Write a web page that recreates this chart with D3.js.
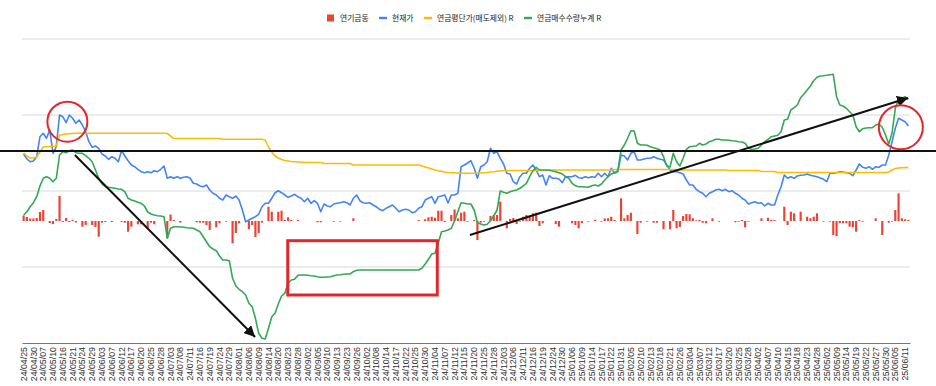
<!DOCTYPE html>
<html><head><meta charset="utf-8">
<script src="https://cdn.jsdelivr.net/npm/d3@7"></script>
<style>body{margin:0;background:#fff}svg{display:block}</style>
</head><body>
<svg id="chart" width="936" height="386"></svg>
<script>
// ---- DATA ----
const seriesNames = ["연기금동", "현재가", "연금평단가(매도제외) R", "연금매수수량누계 R"];

const tickLabels = [
"24/04/25","24/04/30","24/05/07","24/05/10","24/05/16","24/05/21","24/05/24","24/05/29","24/06/03","24/06/07",
"24/06/12","24/06/17","24/06/20","24/06/25","24/06/28","24/07/03","24/07/08","24/07/11","24/07/16","24/07/19",
"24/07/24","24/07/29","24/08/01","24/08/06","24/08/09","24/08/14","24/08/20","24/08/23","24/08/28","24/09/02",
"24/09/05","24/09/10","24/09/13","24/09/23","24/09/26","24/10/02","24/10/08","24/10/14","24/10/17","24/10/22",
"24/10/25","24/10/30","24/11/04","24/11/07","24/11/12","24/11/15","24/11/20","24/11/25","24/11/28","24/12/03",
"24/12/06","24/12/11","24/12/16","24/12/19","24/12/24","24/12/30","25/01/06","25/01/09","25/01/14","25/01/17",
"25/01/22","25/01/31","25/02/05","25/02/10","25/02/13","25/02/18","25/02/21","25/02/26","25/03/04","25/03/07",
"25/03/12","25/03/17","25/03/20","25/03/25","25/03/28","25/04/02","25/04/07","25/04/10","25/04/15","25/04/18",
"25/04/23","25/04/28","25/05/02","25/05/09","25/05/14","25/05/19","25/05/22","25/05/27","25/05/30","25/06/05",
"25/06/11"];

// 현재가 (left axis)
const price = [
18900,18400,18130,18200,18630,20630,20970,20470,21300,18970,
19630,22800,22630,22030,22800,22470,21970,22300,21800,21130,
20130,19570,19700,19470,18900,18700,18370,18630,18470,18130,
19230,18700,18230,17800,17630,17370,17130,17030,17130,17030,
17230,17130,17370,17700,16470,16630,16470,16630,16470,16570,
16630,16470,15970,15900,15700,15630,15800,15300,14970,14800,
14470,14300,14800,14630,14470,14700,14300,13300,12130,12300,
12470,12630,12870,13630,13970,13970,14470,15030,15230,15030,
14800,14570,14700,14870,14630,14470,14130,14470,13970,14230,
13970,13130,13900,13700,13630,13900,13970,14030,14130,14030,
13800,14470,14800,14230,14030,13970,14030,13800,13630,13370,
13230,13470,13630,13800,13470,13130,13300,13370,13300,13030,
13130,13470,13630,14300,14470,14630,13970,14630,14700,14800,
14000,14800,14800,14970,17630,17800,18000,18230,17470,16470,
17630,17800,18130,19470,18970,19130,18470,17900,16970,16900,
16130,15900,16630,16970,16970,17470,17800,17300,16630,16800,
15800,16730,16470,16470,16400,16030,16630,16630,16630,16770,
16530,16470,16630,16530,16630,16570,16970,16630,16970,16630,
17470,16970,17130,18800,18700,18300,18970,19130,18300,18300,
18400,18470,18470,18630,18470,18370,18300,17800,17300,17130,
17130,17030,16900,16300,15800,15800,15370,15130,14970,14630,
14970,15130,15300,15370,15230,15370,15130,15230,14970,14800,
14470,14300,13900,14030,14130,13970,14030,13700,13970,13800,
13800,14800,15630,16800,16470,16630,16470,16700,16770,16800,
16900,16770,16700,16630,16500,16370,16130,16970,16970,17030,
17130,17100,17030,16970,16730,17300,17900,17570,17470,17630,
17370,17630,17570,17800,17800,18800,20130,21470,22470,22300,
22130,21700];

// 연금평단가(매도제외) (right axis)
const avgPrice = [
19000,18700,18500,18500,18600,19100,19600,19630,19650,19650,
19700,20800,20850,20900,20930,20950,20970,20970,20970,20970,
20970,20970,20970,20970,20970,20970,20970,20970,20970,20970,
20970,20970,20970,20970,20970,20970,20970,20970,20970,20970,
20970,20970,20970,20970,20950,20700,20470,20450,20450,20450,
20450,20450,20450,20450,20450,20450,20450,20450,20450,20450,
20450,20370,20370,20370,20370,20370,20370,20370,20370,20370,
20370,20370,20370,20370,20300,19600,19100,18700,18500,18350,
18250,18200,18150,18130,18100,18100,18050,18050,18050,18050,
18050,18050,17950,17950,17950,17950,17950,17950,17950,17950,
17950,17800,17800,17800,17800,17800,17800,17800,17800,17800,
17800,17800,17800,17800,17800,17800,17800,17800,17800,17800,
17800,17800,17700,17600,17500,17400,17300,17230,17170,17100,
17050,17030,17030,17000,17000,16970,16970,16970,16970,17000,
17000,17030,17050,17100,17130,17170,17200,17220,17230,17250,
17250,17250,17250,17250,17250,17250,17250,17250,17250,17250,
17250,17300,17300,17300,17300,17300,17300,17300,17300,17300,
17300,17300,17300,17300,17300,17300,17300,17300,17300,17300,
17300,17350,17350,17350,17350,17350,17350,17350,17350,17350,
17350,17350,17350,17350,17350,17350,17350,17350,17350,17350,
17350,17300,17300,17300,17300,17300,17300,17300,17300,17300,
17300,17300,17300,17300,17300,17300,17250,17250,17250,17250,
17250,17250,17250,17250,17250,17250,17150,17150,17150,17150,
17150,17050,17050,17050,17050,17050,17050,17050,17050,17050,
17050,17050,17050,17050,17050,17050,17050,17050,17050,17050,
17050,17050,17050,17050,17050,17050,17050,17050,17050,17050,
17050,17050,17050,17050,17050,17100,17300,17450,17500,17520,
17540,17550];

// 연금매수수량누계 (right axis)
const cumQty = [
12800,13130,13630,14030,14630,15700,16470,16630,16470,16130,
16470,18800,19130,19030,19230,19300,19030,18970,18970,18730,
18470,18130,17300,16470,15900,15630,15570,15530,15470,15400,
15370,15130,14470,14300,14200,14070,13970,13700,13100,12900,
12800,12730,12700,12630,10470,11470,11630,11630,11600,11570,
11530,11500,11470,11300,11130,10630,10130,9630,9400,9230,
8700,8300,8300,8230,6470,5700,5370,5130,4800,3970,
3630,2470,970,470,400,1470,2630,2970,3900,4700,
4970,5970,6300,6370,6770,6800,6800,6770,6730,6700,
6630,6570,6570,6600,6630,6730,6800,6830,6870,6900,
6900,7130,7270,7300,7300,7300,7300,7300,7300,7300,
7300,7300,7300,7300,7300,7300,7300,7300,7300,7300,
7300,7300,7470,7900,8370,8900,8970,9970,11130,11200,
11300,11470,12230,13130,14030,13970,13900,13900,13300,12030,
11900,11800,11870,12230,12700,13300,15200,15070,14970,15130,
15230,15300,15470,15700,15970,16630,17230,17570,17300,17300,
17300,17270,17200,17130,17030,16900,16630,16470,15970,15730,
15630,15630,15600,15570,15730,15800,15700,15900,16300,16630,
16900,17030,17230,19300,19800,20470,21230,21200,19970,19800,
19800,19770,19630,19530,19430,19300,18630,17700,17600,18970,
18130,17700,18470,19370,19630,19670,19700,19970,19800,19900,
20130,20230,20370,20370,20300,20300,20270,20230,20200,20130,
20100,19970,19470,19370,19400,19470,19800,20130,20370,20630,
20700,20770,21130,22300,22370,23300,23530,23800,24530,24900,
25300,25700,26230,26570,26700,26730,26770,26830,26870,24630,
23800,23700,23470,23130,22800,21630,21130,21430,21500,21530,
21530,21800,21900,21570,20800,19900,21000,23470,24370,24470,
24630,24370];

// 연기금동 (daily net, bars)
const pensionFlow = [
5500,4000,2500,2500,3000,9000,11000,0,-2000,-3000,
2000,25000,-1000,3000,-1000,1000,-1500,0,-5700,-4000,
0,-4000,-6000,-15700,-1700,-1000,0,-1000,0,0,
-1000,-1700,-10700,-5700,0,-3300,-3300,0,-7300,-1700,
-3300,0,0,0,-17000,6500,1000,0,-1700,0,
0,0,0,-1300,-1700,-1700,-4000,-9000,0,-6300,
-2300,0,-700,0,-22300,-12000,-2300,0,0,-8300,
-4000,-16000,-12300,-1700,0,14300,9300,0,9300,10300,
1000,3700,1000,0,1000,0,0,0,0,0,
-1300,-1300,0,0,0,-700,0,-700,0,0,
0,2700,0,0,0,0,0,0,0,0,
0,0,0,0,0,0,0,0,0,0,
0,1000,0,1700,3700,4300,3300,10300,10300,-1000,
0,6000,11500,2700,8300,9300,-700,0,1000,-19000,
-1700,-700,0,5000,6000,6000,19300,0,-7300,2000,
3000,-3000,-700,4300,6000,5000,7700,8300,-5000,-2300,
0,0,0,-3000,-5700,0,0,0,-2300,-4000,
-7300,-2300,0,-700,0,1000,0,-700,2700,2700,
4300,1000,0,22700,2700,6000,8300,0,-13000,-1700,
0,-700,0,-1700,-1700,0,-8300,0,-8300,11000,
-7300,-6000,5000,7000,6700,2700,700,1000,-1700,-2300,
0,2700,0,-700,0,0,0,0,-1300,-700,
1000,-6300,-700,0,0,0,2700,0,3300,1000,
1000,0,0,14300,-4000,9300,7700,0,9300,0,
4300,2700,4300,7700,0,-700,0,-700,-14000,-15000,
-2300,-2300,-2300,-5700,-6300,-10700,1000,-700,0,0,
0,2700,0,-14000,0,-1700,-700,11000,27700,2700,
1700,1000];

// hand-drawn annotations, in data units (category index, left-axis value)
const refLineValue = 19200;
const circleMarks = [{i: 13.4, v: 22130, r: 20}, {i: 268.7, v: 21570, r: 22}];
const arrowMarks = [{i0: 15.7, v0: 18800, i1: 70.9, v1: 600}, {i0: 136.7, v0: 10800, i1: 270.9, v1: 24500}];
const boxMark = {i0: 80.9, i1: 126.7, v0: 10230, v1: 4800};

// ---- CHART ----
const colors = {bar: "#ea4335", price: "#4285f4", avg: "#fbbc04", cum: "#34a853"};
const plot = {left: 22, right: 910, top: 39, bottom: 343};
const N = price.length;
const idx = d3.range(N);

const svg = d3.select("#chart");
const x = d3.scaleBand().domain(idx).range([plot.left, plot.right]).padding(0);
const xi = i => plot.left + (i + 0.5) * x.step();
const yL = d3.scaleLinear().domain([0, 30400]).range([plot.bottom, plot.top]);
const yR = d3.scaleLinear().domain([0, 30400]).range([plot.bottom, plot.top]);
const yB = d3.scaleLinear().domain([-122000, 182000]).range([plot.bottom, plot.top]);

// gridlines
const gridVals = d3.range(1, 5).map(k => k * 30400 / 4);
svg.append("g").selectAll("line").data(gridVals).join("line")
  .attr("x1", plot.left).attr("x2", plot.right)
  .attr("y1", d => yL(d)).attr("y2", d => yL(d))
  .attr("stroke", "#d9d9d9").attr("stroke-width", 1);

// bars
const bw = x.bandwidth() * 0.66;
svg.append("g").selectAll("rect").data(idx).join("rect")
  .attr("x", i => xi(i) - bw / 2)
  .attr("width", bw)
  .attr("y", i => Math.min(yB(pensionFlow[i]), yB(0)))
  .attr("height", i => Math.abs(yB(pensionFlow[i]) - yB(0)))
  .attr("fill", colors.bar);

// lines
function drawLine(arr, scale, color) {
  svg.append("path").datum(idx)
    .attr("fill", "none").attr("stroke", color).attr("stroke-width", 1.6)
    .attr("stroke-linejoin", "round")
    .attr("d", d3.line().x(i => xi(i)).y(i => scale(arr[i])));
}
drawLine(price, yL, colors.price);
drawLine(avgPrice, yR, colors.avg);
drawLine(cumQty, yR, colors.cum);

// x axis
const xAxis = d3.axisBottom(x)
  .tickValues(idx.filter(i => i % 3 === 0))
  .tickFormat(i => tickLabels[i / 3])
  .tickSize(0).tickSizeOuter(0);
const gx = svg.append("g").attr("transform", `translate(0,${plot.bottom})`).call(xAxis);
gx.select(".domain").attr("stroke", "#777").attr("stroke-width", 1);
gx.selectAll("text")
  .attr("transform", "rotate(-90)")
  .attr("x", -4).attr("y", 0).attr("dy", "0.35em")
  .style("text-anchor", "end")
  .style("font-family", "'Liberation Sans', Arial, sans-serif")
  .style("font-size", "8.8px").attr("fill", "#333");

// legend
const legendX = [327, 379, 424, 524];
const lg = svg.append("g").style("font-family", "'Noto Sans CJK KR', sans-serif").style("font-size", "7.8px");
seriesNames.forEach((name, k) => {
  const g = lg.append("g").attr("transform", `translate(${legendX[k]},18)`);
  const col = [colors.bar, colors.price, colors.avg, colors.cum][k];
  if (k === 0) g.append("rect").attr("x", 0).attr("y", -3.5).attr("width", 7).attr("height", 7).attr("fill", col);
  else g.append("rect").attr("x", 0).attr("y", -1.2).attr("width", 8).attr("height", 2.4).attr("fill", col);
  g.append("text").attr("x", k === 0 ? 13 : 13).attr("y", 0).attr("dy", "0.35em").attr("fill", "#222").text(name);
});

// annotations
svg.append("line").attr("x1", 0).attr("x2", 936)
  .attr("y1", yL(refLineValue)).attr("y2", yL(refLineValue))
  .attr("stroke", "#111").attr("stroke-width", 2);

svg.append("defs").append("marker").attr("id", "ah")
  .attr("viewBox", "0 0 10 10").attr("refX", 10).attr("refY", 5)
  .attr("markerWidth", 5.5).attr("markerHeight", 5.5).attr("markerUnits", "strokeWidth")
  .attr("orient", "auto")
  .append("path").attr("d", "M0,0 L10,5 L0,10 Z").attr("fill", "#111");

svg.append("g").selectAll("line").data(arrowMarks).join("line")
  .attr("x1", d => xi(d.i0)).attr("y1", d => yL(d.v0))
  .attr("x2", d => xi(d.i1)).attr("y2", d => yL(d.v1))
  .attr("stroke", "#111").attr("stroke-width", 2).attr("marker-end", "url(#ah)");

svg.append("g").selectAll("circle").data(circleMarks).join("circle")
  .attr("cx", d => xi(d.i)).attr("cy", d => yL(d.v)).attr("r", d => d.r)
  .attr("fill", "none").attr("stroke", "#e3262b").attr("stroke-width", 2);

svg.append("rect")
  .attr("x", xi(boxMark.i0)).attr("y", yL(boxMark.v0))
  .attr("width", xi(boxMark.i1) - xi(boxMark.i0))
  .attr("height", yL(boxMark.v1) - yL(boxMark.v0))
  .attr("fill", "none").attr("stroke", "#e3262b").attr("stroke-width", 3);
</script>
</body></html>
